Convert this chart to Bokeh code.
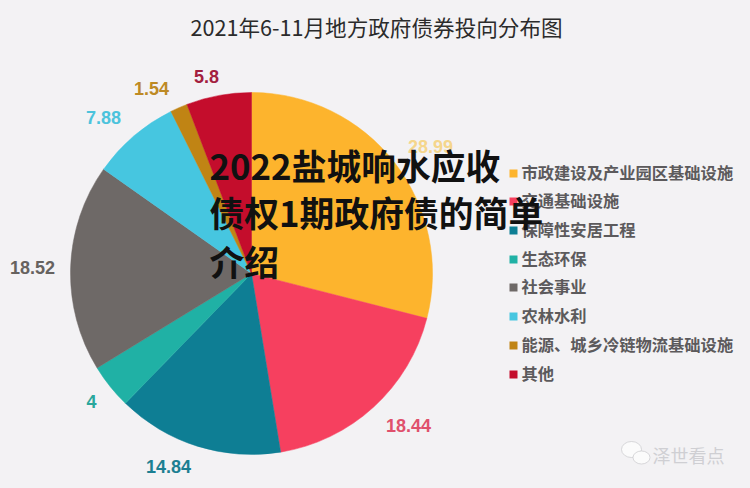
from math import pi
from bokeh.plotting import figure
from bokeh.embed import file_html
from bokeh.resources import INLINE
from bokeh.core.properties import value
from bokeh.models import ColumnDataSource, Range1d

title = "2021年6-11月地方政府债券投向分布图"
overlay = ["2022盐城响水应收", "债权1期政府债的简单", "介绍"]
categories = ["市政建设及产业园区基础设施", "交通基础设施", "保障性安居工程", "生态环保",
              "社会事业", "农林水利", "能源、城乡冷链物流基础设施", "其他"]
shares = [28.99, 18.44, 14.84, 4, 18.52, 7.88, 1.54, 5.8]
labels = ["28.99", "18.44", "14.84", "4", "18.52", "7.88", "1.54", "5.8"]
colors = ["#fdb42d", "#f6405f", "#0e7e94", "#20b1a5", "#6e6967", "#46c6e0", "#c08414", "#c40d2c"]
label_colors = ["#f5d68c", "#e0506c", "#1c7f92", "#2aa79c", "#66625f", "#4cc3dc", "#bd8a24", "#a3203f"]

BG = "#f3f2f4"
W, H = 750, 488
def Y(v):
    return H - v

p = figure(width=W, height=H, output_backend="svg", toolbar_location=None,
           x_range=Range1d(0, W), y_range=Range1d(0, H), min_border=0,
           background_fill_color=BG, border_fill_color=BG, outline_line_color=None)
p.axis.visible = False
p.grid.visible = False

# pie
total = sum(shares)
starts, ends, c = [], [], 0.0
for s in shares:
    starts.append(pi / 2 - 2 * pi * c / total)
    c += s
    ends.append(pi / 2 - 2 * pi * c / total)
src = ColumnDataSource(dict(start=starts, end=ends, color=colors))
p.wedge(x=251, y=Y(273), radius=181, start_angle="start", end_angle="end", direction="clock",
        fill_color="color", line_color="color", line_width=0.5, source=src)

# chart title
p.text(x=[190], y=[Y(26)], text=[title], text_font=value("Noto Sans CJK SC"), text_font_size="21.6px",
       text_color="#2b2b2b", text_baseline="middle", text_align="left")

# data labels
lx = [430, 408, 168, 91, 32, 103, 151, 206]
ly = [146, 425, 466, 401, 267, 117, 88, 76]
p.text(x=lx, y=[Y(v) for v in ly], text=labels, text_font=value("Liberation Sans"),
       text_font_size="18px", text_font_style="bold", text_color=label_colors,
       text_align="center", text_baseline="middle")

# legend
rows = [173, 201, 230, 259, 287, 316, 345, 374]
p.rect(x=[513] * 8, y=[Y(v) for v in rows], width=8, height=8, fill_color=colors, line_color=None)
p.text(x=[521] * 8, y=[Y(v - 2) for v in rows], text=categories, text_font=value("Noto Sans CJK SC"),
       text_font_size="16.3px", text_font_style="bold", text_color="#5c5a5c",
       text_align="left", text_baseline="middle")

# watermark
p.ellipse(x=[631, 641], y=[Y(449), Y(457)], width=[20, 17], height=[16, 13],
          fill_color="#fbfbfb", line_color="#c8c8cc", line_width=0.7)
p.text(x=[652], y=[Y(454)], text=["泽世看点"], text_font=value("Noto Sans CJK SC"), text_font_size="18px",
       text_color="#cfcfd3", text_align="left", text_baseline="middle")

# overlay headline
p.text(x=[209] * 3, y=[Y(164), Y(211), Y(260)], text=overlay, text_font=value("Noto Sans CJK SC"),
       text_font_size="34.8px", text_font_style="bold", text_color="#111111",
       text_align="left", text_baseline="middle")

html = file_html(p, INLINE)
html = html.replace("<head>", "<head><style>html,body{background:%s}</style>" % BG, 1)
open("out.html", "w").write(html)
